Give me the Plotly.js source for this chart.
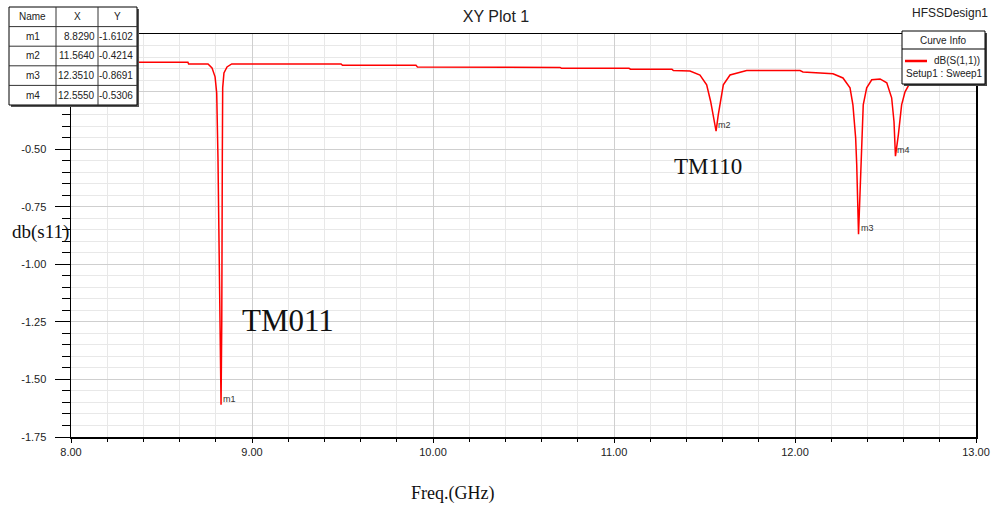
<!DOCTYPE html>
<html>
<head>
<meta charset="utf-8">
<script src="https://cdn.plot.ly/plotly-3.0.1.min.js"></script>
<style>
  html, body { margin: 0; padding: 0; background: #ffffff; }
  #chart { width: 992px; height: 507px; }
</style>
</head>
<body>
<div id="chart"></div>
<script>
// ---------------- data ----------------
const freq = [
  8.000, 8.646, 8.650, 8.757, 8.779, 8.796, 8.805, 8.812, 8.829, 8.833,
  8.836, 8.838, 8.845, 8.862, 8.888, 9.492, 9.500, 9.906, 9.914, 10.702,
  10.710, 11.083, 11.091, 11.320, 11.328, 11.420, 11.475, 11.512, 11.534, 11.549,
  11.564, 11.576, 11.590, 11.604, 11.641, 11.733, 12.028, 12.044, 12.210, 12.265,
  12.304, 12.320, 12.335, 12.341, 12.351, 12.363, 12.369, 12.377, 12.396, 12.424,
  12.470, 12.507, 12.534, 12.547, 12.555, 12.571, 12.589, 12.608, 12.635, 12.680,
  12.750, 12.850, 13.000
];
const s11 = [
  -0.123, -0.123, -0.130, -0.130, -0.147, -0.186, -0.256, -0.537, -1.6102, -1.250,
  -0.540, -0.234, -0.169, -0.143, -0.130, -0.130, -0.136, -0.136, -0.143, -0.145,
  -0.149, -0.149, -0.153, -0.153, -0.159, -0.161, -0.178, -0.221, -0.293, -0.364,
  -0.4214, -0.351, -0.277, -0.221, -0.178, -0.159, -0.159, -0.165, -0.173, -0.191,
  -0.234, -0.308, -0.451, -0.568, -0.8691, -0.568, -0.425, -0.308, -0.234, -0.199,
  -0.195, -0.212, -0.277, -0.381, -0.5306, -0.438, -0.308, -0.251, -0.212, -0.170,
  -0.150, -0.140, -0.135
];
const markerNames = ['m1', 'm2', 'm3', 'm4'];
const markerX = [8.8290, 11.5640, 12.3510, 12.5550];
const markerY = [-1.6102, -0.4214, -0.8691, -0.5306];
const tableHeader = ['Name', 'X', 'Y'];
const modeLabels = ['TM011', 'TM110'];
const traceName = 'dB(S(1,1))';
const setupName = 'Setup1 : Sweep1';
// y tick values; the top two labels sit under the marker table in the reference
const yTickVals = [0, -0.25, -0.50, -0.75, -1.00, -1.25, -1.50, -1.75];
const yTickHidden = [true, true, false, false, false, false, false, false];

// ---------------- layout helpers (pixel -> paper) ----------------
const L = 71, R = 976, T = 34, B = 437;
const W = 992, H = 507;
const px = v => (v - L) / (R - L);
const py = v => (B - v) / (B - T);

const sans = 'Liberation Sans, Arial, sans-serif';
const serif = 'Liberation Serif, Times New Roman, serif';

const shapes = [];
const annotations = [];

// --- marker table (top-left) ---
const tX0 = 9, tX1 = 137, tY0 = 7, tY1 = 105;
const colEdges = [tX0, 56, 98, tX1];
const rowH = (tY1 - tY0) / (markerNames.length + 1);
shapes.push({type: 'rect', xref: 'paper', yref: 'paper', layer: 'above',
  x0: px(tX0 + 2), x1: px(tX1 + 2), y0: py(tY0 + 2), y1: py(tY1 + 2),
  fillcolor: '#555555', line: {width: 0}});
shapes.push({type: 'rect', xref: 'paper', yref: 'paper', layer: 'above',
  x0: px(tX0), x1: px(tX1), y0: py(tY0), y1: py(tY1),
  fillcolor: '#ffffff', line: {color: '#000000', width: 1}});
for (let c = 1; c < colEdges.length - 1; c++) {
  shapes.push({type: 'line', xref: 'paper', yref: 'paper', layer: 'above',
    x0: px(colEdges[c]), x1: px(colEdges[c]), y0: py(tY0), y1: py(tY1),
    line: {color: '#333333', width: 1}});
}
for (let r = 1; r <= markerNames.length; r++) {
  const yy = tY0 + r * rowH;
  shapes.push({type: 'line', xref: 'paper', yref: 'paper', layer: 'above',
    x0: px(tX0), x1: px(tX1), y0: py(yy), y1: py(yy),
    line: {color: '#333333', width: 1}});
}
const tableFont = {family: sans, size: 10, color: '#222222'};
tableHeader.forEach((h, c) => {
  annotations.push({xref: 'paper', yref: 'paper', showarrow: false,
    x: px((colEdges[c] + colEdges[c + 1]) / 2), y: py(tY0 + rowH / 2),
    xanchor: 'center', yanchor: 'middle', text: h, font: tableFont});
});
markerNames.forEach((n, i) => {
  const yc = py(tY0 + (i + 1.5) * rowH);
  annotations.push({xref: 'paper', yref: 'paper', showarrow: false,
    x: px((colEdges[0] + colEdges[1]) / 2), y: yc, xanchor: 'center', yanchor: 'middle',
    text: n, font: tableFont});
  annotations.push({xref: 'paper', yref: 'paper', showarrow: false,
    x: px(colEdges[2] - 1), y: yc, xanchor: 'right', yanchor: 'middle',
    text: markerX[i].toFixed(4), font: tableFont});
  annotations.push({xref: 'paper', yref: 'paper', showarrow: false,
    x: px(colEdges[3] - 2), y: yc, xanchor: 'right', yanchor: 'middle',
    text: markerY[i].toFixed(4), font: tableFont});
});

// --- curve info box (top-right) ---
const cX0 = 902, cX1 = 985, cY0 = 31, cY1 = 84;
shapes.push({type: 'rect', xref: 'paper', yref: 'paper', layer: 'above',
  x0: px(cX0 + 2), x1: px(cX1 + 2), y0: py(cY0 + 2), y1: py(cY1 + 2),
  fillcolor: '#444444', line: {width: 0}});
shapes.push({type: 'rect', xref: 'paper', yref: 'paper', layer: 'above',
  x0: px(cX0), x1: px(cX1), y0: py(cY0), y1: py(cY1),
  fillcolor: '#ffffff', line: {color: '#000000', width: 1}});
shapes.push({type: 'line', xref: 'paper', yref: 'paper', layer: 'above',
  x0: px(cX0), x1: px(cX1), y0: py(49), y1: py(49),
  line: {color: '#000000', width: 1}});
shapes.push({type: 'line', xref: 'paper', yref: 'paper', layer: 'above',
  x0: px(905), x1: px(927), y0: py(61), y1: py(61),
  line: {color: '#ff0000', width: 2.5}});
annotations.push({xref: 'paper', yref: 'paper', showarrow: false,
  x: px((cX0 + cX1) / 2), y: py(40), xanchor: 'center', yanchor: 'middle',
  text: 'Curve Info', font: {family: sans, size: 10, color: '#222222'}});
annotations.push({xref: 'paper', yref: 'paper', showarrow: false,
  x: px(982), y: py(61), xanchor: 'right', yanchor: 'middle',
  text: traceName, font: {family: sans, size: 10, color: '#222222'}});
annotations.push({xref: 'paper', yref: 'paper', showarrow: false,
  x: px(904), y: py(73), xanchor: 'left', yanchor: 'middle',
  text: setupName, font: {family: sans, size: 10, color: '#222222'}});

// --- HFSSDesign1 ---
annotations.push({xref: 'paper', yref: 'paper', showarrow: false,
  x: px(990), y: py(13), xanchor: 'right', yanchor: 'middle',
  text: 'HFSSDesign1', font: {family: sans, size: 12, color: '#222222'}});

// --- marker labels on the curve ---
markerNames.forEach((n, i) => {
  annotations.push({xref: 'x', yref: 'y', showarrow: false,
    x: markerX[i], y: markerY[i], xanchor: 'left', yanchor: 'middle',
    xshift: 0, yshift: 6, text: n, font: {family: sans, size: 9, color: '#333333'}});
});

// --- mode labels and axis titles (serif) ---
annotations.push({xref: 'paper', yref: 'paper', showarrow: false,
  x: px(240), y: py(320), xanchor: 'left', yanchor: 'middle',
  text: modeLabels[0], font: {family: serif, size: 31, color: '#111111'}});
annotations.push({xref: 'paper', yref: 'paper', showarrow: false,
  x: px(672), y: py(166), xanchor: 'left', yanchor: 'middle',
  text: modeLabels[1], font: {family: serif, size: 23, color: '#111111'}});
annotations.push({xref: 'paper', yref: 'paper', showarrow: false,
  x: px(40), y: py(232), xanchor: 'center', yanchor: 'middle',
  text: 'db(s11)', font: {family: serif, size: 19, color: '#111111'}});
annotations.push({xref: 'paper', yref: 'paper', showarrow: false,
  x: px(452), y: py(493), xanchor: 'center', yanchor: 'middle',
  text: 'Freq.(GHz)', font: {family: serif, size: 18, color: '#111111'}});

const trace = {
  x: freq, y: s11, type: 'scatter', mode: 'lines', name: traceName,
  line: {color: '#ff0000', width: 1.5}, showlegend: false, hoverinfo: 'skip'
};

const layout = {
  width: W, height: H,
  margin: {l: L, r: W - R, t: T, b: H - B, pad: 0},
  paper_bgcolor: '#ffffff', plot_bgcolor: '#ffffff',
  showlegend: false,
  title: {text: 'XY Plot 1', x: 0.5, xref: 'container', xanchor: 'center',
    y: 1 - 16 / H, yref: 'container', yanchor: 'middle',
    font: {family: sans, size: 16, color: '#222222'}},
  xaxis: {
    range: [8, 13], tick0: 8, dtick: 1, tickformat: '.2f',
    ticks: 'outside', ticklen: 4, tickcolor: '#000000', tickwidth: 1,
    showline: true, linecolor: '#000000', linewidth: 1.5, mirror: true,
    showgrid: true, gridcolor: '#cfcfcf', gridwidth: 1, zeroline: false,
    tickfont: {family: sans, size: 11, color: '#222222'},
    minor: {dtick: 0.2, tick0: 8, showgrid: true, gridcolor: '#e8e8e8', gridwidth: 1,
      ticks: 'outside', ticklen: 3, tickcolor: '#000000'}
  },
  yaxis: {
    range: [-1.75, 0], tickmode: 'array', tickvals: yTickVals,
    ticktext: yTickVals.map((v, i) => yTickHidden[i] ? '' : v.toFixed(2)),
    ticks: 'outside', ticklen: 15, tickcolor: '#000000', tickwidth: 1,
    showline: true, linecolor: '#000000', linewidth: 1.5, mirror: true,
    showgrid: true, gridcolor: '#cfcfcf', gridwidth: 1, zeroline: false,
    ticklabelstandoff: 6,
    tickfont: {family: sans, size: 11, color: '#222222'},
    minor: {tickmode: 'linear', dtick: 0.05, tick0: 0, showgrid: true, gridcolor: '#e8e8e8', gridwidth: 1,
      ticks: 'outside', ticklen: 8, tickcolor: '#000000'}
  },
  shapes: shapes,
  annotations: annotations
};

Plotly.newPlot('chart', [trace], layout, {displayModeBar: false, staticPlot: true});
</script>
</body>
</html>
